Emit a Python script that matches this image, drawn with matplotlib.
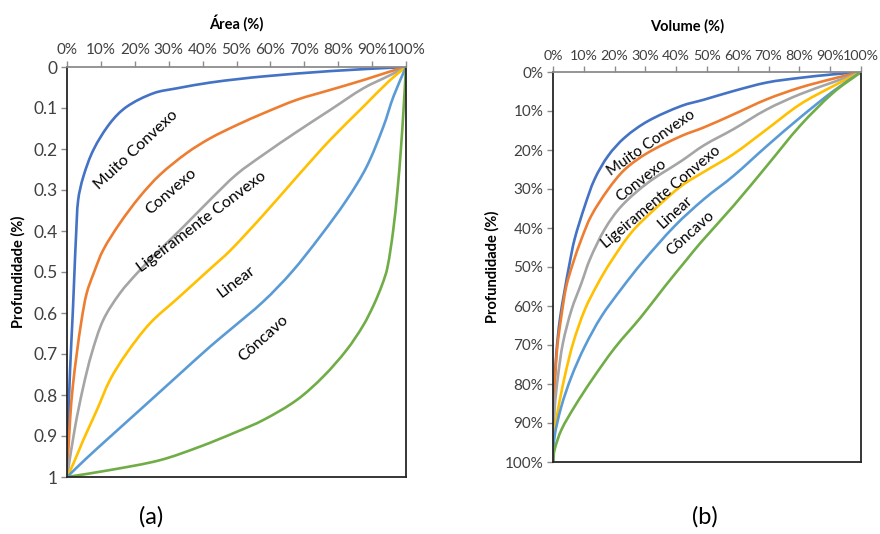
import matplotlib
matplotlib.use('Agg')
import matplotlib.pyplot as plt
import numpy as np
from matplotlib.ticker import FuncFormatter
from matplotlib.path import Path
from matplotlib.patches import PathPatch

plt.rcParams['font.family'] = ['Lato', 'DejaVu Sans']

# cores padrao do Excel
cores = ['#4472C4', '#ED7D31', '#A5A5A5', '#FFC000', '#5B9BD5', '#70AD47']

# (a) curvas area x profundidade
muito_a_x = [0, 0.004, 0.009, 0.017, 0.022, 0.027, 0.033, 0.048, 0.078, 0.127, 0.176, 0.255, 0.324, 0.422, 0.51, 0.579, 0.776, 1]
muito_a_y = [1, 0.861, 0.739, 0.60, 0.50, 0.406, 0.324, 0.268, 0.202, 0.137, 0.097, 0.064, 0.052, 0.038, 0.029, 0.023, 0.010, 0]
convexo_a_x = [0, 0.009, 0.017, 0.029, 0.043, 0.058, 0.080, 0.107, 0.156, 0.215, 0.274, 0.353, 0.422, 0.50, 0.579, 0.678, 0.776, 0.874, 0.953, 1]
convexo_a_y = [1, 0.861, 0.780, 0.698, 0.617, 0.552, 0.50, 0.446, 0.381, 0.316, 0.263, 0.210, 0.174, 0.142, 0.113, 0.080, 0.056, 0.032, 0.011, 0]
ligeir_a_x = [0, 0.024, 0.048, 0.073, 0.107, 0.156, 0.21, 0.274, 0.343, 0.422, 0.50, 0.579, 0.678, 0.776, 0.874, 0.953, 1]
ligeir_a_y = [1, 0.877, 0.780, 0.698, 0.617, 0.552, 0.50, 0.446, 0.390, 0.324, 0.262, 0.214, 0.158, 0.105, 0.052, 0.020, 0]
linear_a_x = [0, 0.019, 0.048, 0.088, 0.127, 0.176, 0.245, 0.324, 0.42, 0.481, 0.579, 0.678, 0.776, 0.874, 0.953, 1]
linear_a_y = [1, 0.967, 0.910, 0.837, 0.763, 0.698, 0.625, 0.566, 0.494, 0.448, 0.361, 0.268, 0.178, 0.097, 0.032, 0]
concavo_a_x = [0, 0.058, 0.127, 0.225, 0.324, 0.422, 0.481, 0.579, 0.663, 0.746, 0.825, 0.884, 0.933, 0.963, 1]
concavo_a_y = [1, 0.954, 0.902, 0.829, 0.755, 0.682, 0.641, 0.572, 0.50, 0.414, 0.324, 0.243, 0.146, 0.072, 0]
verde_a_x = [0, 0.127, 0.274, 0.392, 0.50, 0.579, 0.678, 0.756, 0.825, 0.874, 0.905, 0.93, 0.945, 0.962, 0.975, 0.985, 0.993, 1]
verde_a_y = [1, 0.983, 0.959, 0.926, 0.890, 0.861, 0.812, 0.755, 0.690, 0.630, 0.580, 0.530, 0.49, 0.40, 0.30, 0.20, 0.10, 0]

# (b) curvas volume x profundidade
muito_b_x = [0, 0.002, 0.011, 0.022, 0.038, 0.054, 0.070, 0.103, 0.135, 0.179, 0.233, 0.308, 0.417, 0.49, 0.585, 0.694, 0.802, 0.910, 1]
muito_b_y = [1, 0.85, 0.721, 0.636, 0.559, 0.49, 0.429, 0.344, 0.275, 0.215, 0.168, 0.126, 0.087, 0.071, 0.049, 0.027, 0.015, 0.006, 0]
convexo_b_x = [0, 0.0, 0.005, 0.014, 0.027, 0.043, 0.065, 0.092, 0.124, 0.179, 0.233, 0.308, 0.417, 0.49, 0.585, 0.694, 0.802, 0.910, 1]
convexo_b_y = [1, 0.9, 0.807, 0.704, 0.627, 0.550, 0.49, 0.429, 0.369, 0.301, 0.250, 0.207, 0.164, 0.142, 0.109, 0.070, 0.040, 0.017, 0]
ligeir_b_x = [0, 0.005, 0.016, 0.032, 0.060, 0.092, 0.12, 0.168, 0.222, 0.308, 0.417, 0.49, 0.585, 0.694, 0.802, 0.910, 1]
ligeir_b_y = [1, 0.867, 0.781, 0.696, 0.610, 0.542, 0.48, 0.403, 0.344, 0.284, 0.228, 0.188, 0.147, 0.096, 0.057, 0.026, 0]
linear_b_x = [0, 0.0, 0.016, 0.038, 0.065, 0.103, 0.146, 0.185, 0.254, 0.330, 0.417, 0.49, 0.585, 0.694, 0.802, 0.910, 1]
linear_b_y = [1, 0.95, 0.867, 0.781, 0.696, 0.610, 0.542, 0.49, 0.412, 0.352, 0.292, 0.256, 0.211, 0.147, 0.083, 0.036, 0]
concavo_b_x = [0, 0.005, 0.027, 0.060, 0.103, 0.157, 0.222, 0.29, 0.395, 0.49, 0.585, 0.694, 0.802, 0.910, 1]
concavo_b_y = [1, 0.935, 0.858, 0.781, 0.704, 0.627, 0.556, 0.488, 0.395, 0.326, 0.267, 0.190, 0.117, 0.049, 0]
verde_b_x = [0, 0.005, 0.027, 0.070, 0.124, 0.200, 0.287, 0.363, 0.433, 0.48, 0.585, 0.694, 0.802, 0.910, 1]
verde_b_y = [1, 0.969, 0.918, 0.858, 0.792, 0.708, 0.627, 0.550, 0.482, 0.437, 0.344, 0.241, 0.138, 0.053, 0]

# rotulos das curvas: texto, x, y, angulo
rotulos = ['Muito Convexo', 'Convexo', 'Ligeiramente Convexo', 'Linear', 'Côncavo']
rot_a_x = [0.204, 0.307, 0.398, 0.499, 0.578]
rot_a_y = [0.202, 0.305, 0.378, 0.524, 0.661]
rot_a_ang = [43, 41, 37, 37, 42]
rot_b_x = [0.318, 0.286, 0.351, 0.396, 0.445]
rot_b_y = [0.182, 0.279, 0.321, 0.359, 0.413]
rot_b_ang = [35, 38, 40, 42, 42]

ticks = np.arange(0, 1.01, 0.1)

W, H = 880, 534
fig = plt.figure(figsize=(W / 100, H / 100), dpi=100)


def eixo(left, top, right, bottom, yfmt, xsize, ysize):
    ax = fig.add_axes([left / W, 1 - bottom / H, (right - left) / W, (bottom - top) / H])
    ax.set_xlim(0, 1)
    ax.set_ylim(1, 0)
    ax.xaxis.tick_top()
    ax.set_xticks(ticks)
    ax.set_yticks(ticks)
    ax.xaxis.set_major_formatter(FuncFormatter(lambda v, p: f'{v * 100:.0f}%'))
    ax.yaxis.set_major_formatter(FuncFormatter(yfmt))
    ax.tick_params(axis='both', direction='out', length=4, width=1, color='#8c8c8c',
                   labelcolor='#404040', pad=3)
    ax.tick_params(axis='x', labelsize=xsize)
    ax.tick_params(axis='y', labelsize=ysize)
    for s in ['bottom', 'right', 'left']:
        ax.spines[s].set_color('#262626')
        ax.spines[s].set_linewidth(1.3)
    ax.spines['top'].set_color('#8c8c8c')
    ax.spines['top'].set_linewidth(1.3)
    return ax


def fmt_a(v, p):
    if abs(v) < 1e-9:
        return '0'
    if abs(v - 1) < 1e-9:
        return '1'
    return f'{v:.1f}'


# linha suavizada (tipo Excel) com curvas de Bezier passando pelos pontos
def suave(ax, x, y, cor):
    p = np.column_stack([x, y]).astype(float)
    n = len(p)
    tang = np.zeros_like(p)
    for i in range(n):
        d = p[min(i + 1, n - 1)] - p[max(i - 1, 0)]
        tang[i] = d / np.hypot(*d)
    verts = [p[0]]
    codes = [Path.MOVETO]
    for i in range(n - 1):
        L = np.hypot(*(p[i + 1] - p[i]))
        verts += [p[i] + tang[i] * L / 3, p[i + 1] - tang[i + 1] * L / 3, p[i + 1]]
        codes += [Path.CURVE4] * 3
    ax.add_patch(PathPatch(Path(verts, codes), fill=False, edgecolor=cor, lw=1.9,
                           capstyle='round', joinstyle='round'))


ax1 = eixo(67, 67, 406, 477, fmt_a, 11, 12.5)
ax2 = eixo(553, 72, 861, 462, lambda v, p: f'{v * 100:.0f}%', 10.3, 11)

curvas_a = [(muito_a_x, muito_a_y), (convexo_a_x, convexo_a_y), (ligeir_a_x, ligeir_a_y),
            (linear_a_x, linear_a_y), (concavo_a_x, concavo_a_y), (verde_a_x, verde_a_y)]
curvas_b = [(muito_b_x, muito_b_y), (convexo_b_x, convexo_b_y), (ligeir_b_x, ligeir_b_y),
            (linear_b_x, linear_b_y), (concavo_b_x, concavo_b_y), (verde_b_x, verde_b_y)]

for (x, y), c in zip(curvas_a, cores):
    suave(ax1, x, y, c)
for (x, y), c in zip(curvas_b, cores):
    suave(ax2, x, y, c)

for t, x, y, a in zip(rotulos, rot_a_x, rot_a_y, rot_a_ang):
    ax1.text(x, y, t, rotation=a, ha='center', va='center', fontsize=11.5, color='black',
             rotation_mode='anchor')
for t, x, y, a in zip(rotulos, rot_b_x, rot_b_y, rot_b_ang):
    ax2.text(x, y, t, rotation=a, ha='center', va='center', fontsize=11, color='black',
             rotation_mode='anchor')

# titulos dos eixos
fig.text(236.5 / W, 1 - 22.7 / H, 'Área (%)', ha='center', va='center', fontsize=10.5, fontweight='bold')
fig.text(686.7 / W, 1 - 26.7 / H, 'Volume (%)', ha='center', va='center', fontsize=10.5, fontweight='bold')
fig.text(18 / W, 1 - 272 / H, 'Profundidade (%)', ha='center', va='center', rotation=90,
         fontsize=10.5, fontweight='bold')
fig.text(492 / W, 1 - 267 / H, 'Profundidade (%)', ha='center', va='center', rotation=90,
         fontsize=10.5, fontweight='bold')

fig.text(151 / W, 1 - 517 / H, '(a)', ha='center', va='center', fontsize=17)
fig.text(705 / W, 1 - 517 / H, '(b)', ha='center', va='center', fontsize=17)

fig.savefig('out.png', dpi=100, facecolor='white')
